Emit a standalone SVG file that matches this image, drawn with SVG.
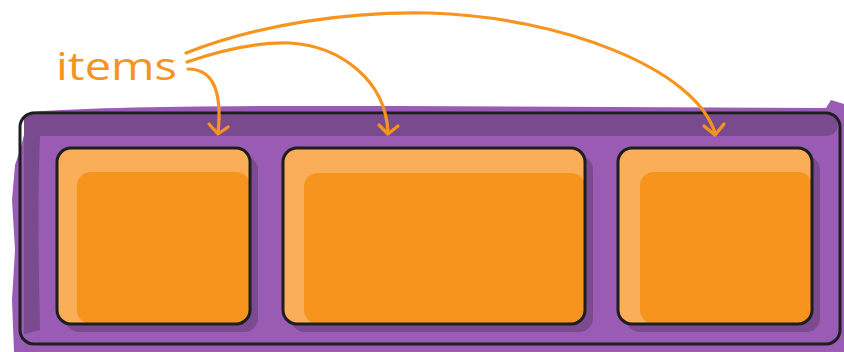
<svg xmlns="http://www.w3.org/2000/svg" width="844" height="352" viewBox="0 0 844 352">
<style>
.lbl{font-family:"Open Sans","Liberation Sans",sans-serif;font-size:38px;fill:#f7941d}
.arr{fill:none;stroke:#f7941d;stroke-width:3.2;stroke-linecap:round;stroke-linejoin:round}
.shadow{fill:#7b4a8f}
.light{fill:#f9ae57}
.dark{fill:#f7941d}
.edge{fill:none;stroke:#1e1e1e;stroke-width:3}
</style>
<rect width="844" height="352" fill="#ffffff"/>
<g id="container">
  <path d="M30,112 Q120,105 400,106 L826,108 L831,100 L844,104 L844,352 L14,352 L12,300 L15,250 L12,200 L15,165 L20,150 Z" fill="#9a5bb5"/>
  <path d="M24,115 L836,115 L838,126 Q836,136 824,136 L40,136 Q37,200 40,330 L24,334 Z" fill="#7a4a8e"/>
  <rect x="20" y="113" width="820" height="231" rx="14" class="edge" stroke-width="3.2"/>
</g>
<g id="item1">
  <rect x="65" y="156" width="193" height="176" rx="14" class="shadow"/>
  <rect x="57" y="148" width="193" height="176" rx="14" class="light"/>
  <rect x="77" y="172" width="173" height="152" rx="14" class="dark"/>
  <rect x="57" y="148" width="193" height="176" rx="14" class="edge"/>
</g>
<g id="item2">
  <rect x="291" y="156" width="302" height="176" rx="14" class="shadow"/>
  <rect x="283" y="148" width="302" height="176" rx="14" class="light"/>
  <rect x="304" y="173" width="281" height="151" rx="14" class="dark"/>
  <rect x="283" y="148" width="302" height="176" rx="14" class="edge"/>
</g>
<g id="item3">
  <rect x="626" y="156" width="194" height="176" rx="14" class="shadow"/>
  <rect x="618" y="148" width="194" height="176" rx="14" class="light"/>
  <rect x="640" y="172" width="172" height="152" rx="14" class="dark"/>
  <rect x="618" y="148" width="194" height="176" rx="14" class="edge"/>
</g>
<g id="label">
  <text x="56" y="80" class="lbl" textLength="121" lengthAdjust="spacingAndGlyphs">items</text>
</g>
<g id="connectors">
  <path class="arr" d="M188,69 C210,69 223,86 218,133"/>
  <path class="arr" d="M209,124 L218,134 L228,127"/>
  <path class="arr" d="M187,62 C225,49 260,42 290,43 C340,46 386,80 388,133"/>
  <path class="arr" d="M379,125 L388,134 L398,126"/>
  <path class="arr" d="M186,53 C260,24 350,11 430,13 C560,17 695,68 715,133"/>
  <path class="arr" d="M704,126 L715,135 L724,124"/>
</g>
</svg>
